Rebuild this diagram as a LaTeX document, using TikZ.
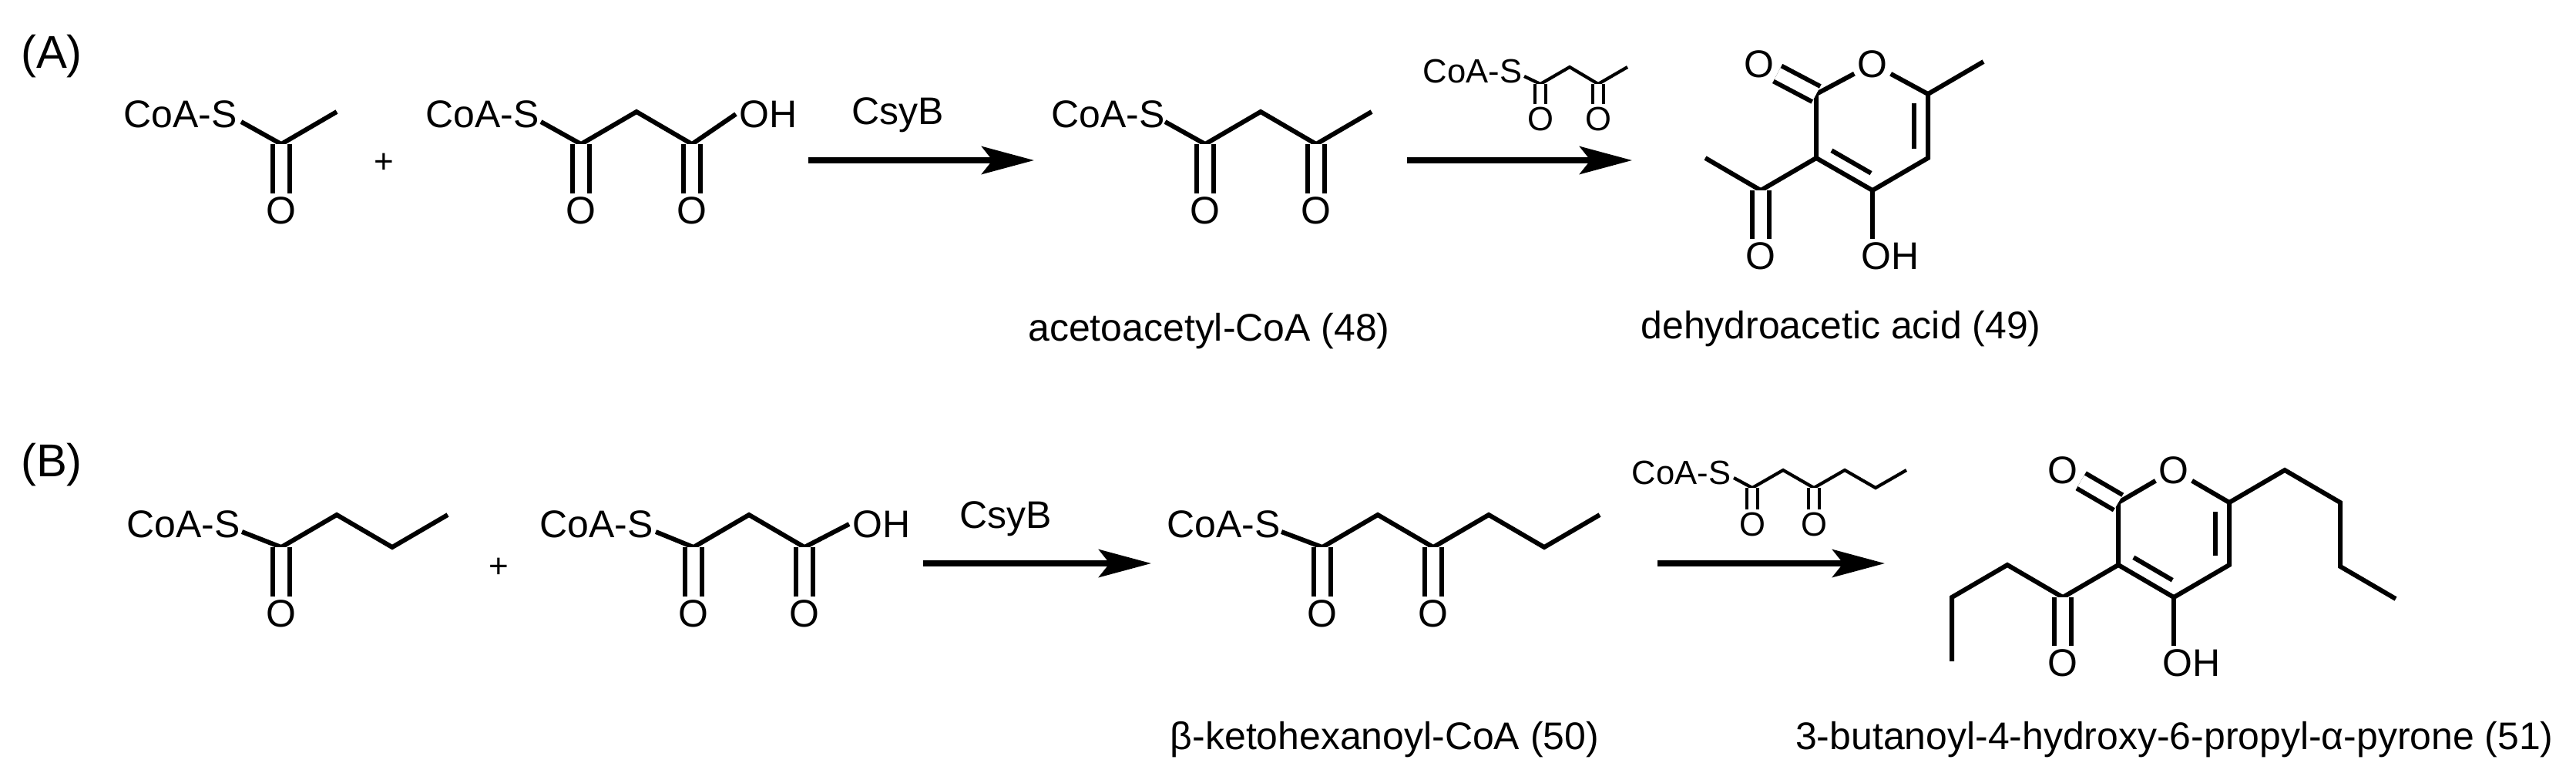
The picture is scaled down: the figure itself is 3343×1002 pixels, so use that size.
\documentclass[tikz,border=0pt]{standalone}
\usepackage{fontspec}
\setmainfont{Liberation Sans}
\usetikzlibrary{arrows.meta,calc}

\tikzset{
  bond/.style={line width=1.7pt, line join=miter},
  sbond/.style={line width=1.2pt},
  dbl/.style={line width=1.7pt, double distance=0.165cm},
  sdbl/.style={line width=1.2pt, double distance=0.1cm},
  rxn/.style={line width=2.1pt, -{Stealth[length=0.68cm,width=0.36cm,inset=0.14cm]}},
  lbl/.style={inner sep=1pt, font=\fontsize{14.2}{16}\selectfont},
  slbl/.style={inner sep=0.8pt, font=\fontsize{12.4}{14}\selectfont},
  panel/.style={inner sep=0pt, font=\fontsize{17}{19}\selectfont},
  plus/.style={inner sep=0pt, font=\fontsize{12.5}{14}\selectfont}
}

\begin{document}
\begin{tikzpicture}[x=0.01cm, y=-0.01cm]
    \useasboundingbox (0,0) rectangle (3343,1002);

    % ---------- (A) ----------
    \node[panel] (pA) at (67,73) {(A)};

    % acetyl-CoA
    \node[lbl] (a1s) at (234,148) {CoA-S};
    \coordinate (a1b) at (313,158);
    \coordinate (a1c) at (365,187);
    \coordinate (a1m) at (437,145);
    \node[lbl] (a1o) at (365,273) {O};
    \draw[bond] (a1b) -- (a1c) -- (a1m);
    \draw[dbl] (a1c) -- (a1o);

    \node[plus] (a1p) at (498,212) {+};

    % malonyl-CoA
    \node[lbl] (a2s) at (626,148) {CoA-S};
    \coordinate (a2b) at (702,158);
    \coordinate (a2c1) at (754,187);
    \coordinate (a2m) at (826,145);
    \coordinate (a2c2) at (898,187);
    \node[lbl,anchor=west] (a2oh) at (955,148) {OH};
    \node[lbl] (a2o1) at (754,273) {O};
    \node[lbl] (a2o2) at (898,273) {O};
    \draw[bond] (a2b) -- (a2c1) -- (a2m) -- (a2c2) -- (a2oh.west);
    \draw[dbl] (a2c1) -- (a2o1);
    \draw[dbl] (a2c2) -- (a2o2);

    % first step
    \coordinate (ar1l) at (1049,208);
    \coordinate (ar1r) at (1342,208);
    \draw[rxn] (ar1l) -- (ar1r);
    \node[lbl] (ar1t) at (1165,149) {CsyB};

    % acetoacetyl-CoA
    \node[lbl] (a3s) at (1438,148) {CoA-S};
    \coordinate (a3b) at (1512,158);
    \coordinate (a3c1) at (1564,187);
    \coordinate (a3m) at (1636,145);
    \coordinate (a3c2) at (1708,187);
    \coordinate (a3e) at (1780,145);
    \node[lbl] (a3o1) at (1564,273) {O};
    \node[lbl] (a3o2) at (1708,273) {O};
    \draw[bond] (a3b) -- (a3c1) -- (a3m) -- (a3c2) -- (a3e);
    \draw[dbl] (a3c1) -- (a3o1);
    \draw[dbl] (a3c2) -- (a3o2);
    \node[lbl] (a3n) at (1569,430) {acetoacetyl-CoA (48)};

    % second step
    \coordinate (ar2l) at (1826,208);
    \coordinate (ar2r) at (2118,208);
    \draw[rxn] (ar2l) -- (ar2r);
    \node[slbl] (a4s) at (1911,92) {CoA-S};
    \coordinate (a4b) at (1978,99);
    \coordinate (a4c1) at (1999,109);
    \coordinate (a4m) at (2037,87);
    \coordinate (a4c2) at (2074,109);
    \coordinate (a4e) at (2112,87);
    \node[slbl] (a4o1) at (1999,154) {O};
    \node[slbl] (a4o2) at (2074,154) {O};
    \draw[sbond] (a4b) -- (a4c1) -- (a4m) -- (a4c2) -- (a4e);
    \draw[sdbl] (a4c1) -- (a4o1);
    \draw[sdbl] (a4c2) -- (a4o2);

    % dehydroacetic acid
    \node[lbl] (a5o1) at (2430,83) {O};
    \coordinate (a5c2) at (2357,122);
    \coordinate (a5c3) at (2357,205);
    \coordinate (a5c4) at (2430,247);
    \coordinate (a5c5) at (2502,205);
    \coordinate (a5c6) at (2502,122);
    \coordinate (a5m) at (2574,80);
    \node[lbl] (a5ox) at (2283,83) {O};
    \coordinate (a5k) at (2285,247);
    \coordinate (a5km) at (2213,205);
    \node[lbl] (a5ko) at (2285,332) {O};
    \node[lbl,anchor=west] (a5oh) at (2411,332) {OH};
    \draw[bond] (a5o1) -- (a5c2) -- (a5c3) -- (a5c4) -- (a5c5) -- (a5c6) -- (a5o1);
    \draw[bond] (a5c6) -- (a5m);
    \draw[bond] (a5km) -- (a5k) -- (a5c3);
    \draw[bond] (a5c4) -- (a5oh.north west -| a5c4);
    \draw[dbl] (a5c2) -- (a5ox);
    \draw[dbl] (a5k) -- (a5ko);
    \draw[bond] ($(a5c3)!.15!(a5c4)+(9,-16)$) -- ($(a5c3)!.85!(a5c4)+(9,-16)$);
    \draw[bond] ($(a5c5)!.15!(a5c6)+(-18,0)$) -- ($(a5c5)!.85!(a5c6)+(-18,0)$);
    \node[lbl] (a5n) at (2389,427) {dehydroacetic acid (49)};

    % ---------- (B) ----------
    \node[panel] (pB) at (67,603) {(B)};

    % butyryl-CoA
    \node[lbl] (b1s) at (238,680) {CoA-S};
    \coordinate (b1b) at (314,690);
    \coordinate (b1c) at (365,710);
    \coordinate (b1m1) at (437,668);
    \coordinate (b1m2) at (509,710);
    \coordinate (b1e) at (581,668);
    \node[lbl] (b1o) at (365,796) {O};
    \draw[bond] (b1b) -- (b1c) -- (b1m1) -- (b1m2) -- (b1e);
    \draw[dbl] (b1c) -- (b1o);

    \node[plus] (b1p) at (647,737) {+};

    % malonyl-CoA
    \node[lbl] (b2s) at (774,680) {CoA-S};
    \coordinate (b2b) at (851,690);
    \coordinate (b2c1) at (900,710);
    \coordinate (b2m) at (972,668);
    \coordinate (b2c2) at (1044,710);
    \node[lbl,anchor=west] (b2oh) at (1102,680) {OH};
    \node[lbl] (b2o1) at (900,796) {O};
    \node[lbl] (b2o2) at (1044,796) {O};
    \draw[bond] (b2b) -- (b2c1) -- (b2m) -- (b2c2) -- (b2oh.west);
    \draw[dbl] (b2c1) -- (b2o1);
    \draw[dbl] (b2c2) -- (b2o2);

    % first step
    \coordinate (br1l) at (1198,731);
    \coordinate (br1r) at (1494,731);
    \draw[rxn] (br1l) -- (br1r);
    \node[lbl] (br1t) at (1305,673) {CsyB};

    % beta-ketohexanoyl-CoA
    \node[lbl] (b3s) at (1588,680) {CoA-S};
    \coordinate (b3b) at (1663,690);
    \coordinate (b3c1) at (1716,710);
    \coordinate (b3m1) at (1788,668);
    \coordinate (b3c2) at (1860,710);
    \coordinate (b3m2) at (1932,668);
    \coordinate (b3m3) at (2004,710);
    \coordinate (b3e) at (2076,668);
    \node[lbl] (b3o1) at (1716,796) {O};
    \node[lbl] (b3o2) at (1860,796) {O};
    \draw[bond] (b3b) -- (b3c1) -- (b3m1) -- (b3c2) -- (b3m2) -- (b3m3) -- (b3e);
    \draw[dbl] (b3c1) -- (b3o1);
    \draw[dbl] (b3c2) -- (b3o2);
    \node[lbl] (b3n) at (1797,960) {β-ketohexanoyl-CoA (50)};

    % second step
    \coordinate (br2l) at (2151,731);
    \coordinate (br2r) at (2446,731);
    \draw[rxn] (br2l) -- (br2r);
    \node[slbl] (b4s) at (2182,613) {CoA-S};
    \coordinate (b4b) at (2250,620);
    \coordinate (b4c1) at (2274,633);
    \coordinate (b4m1) at (2314,610);
    \coordinate (b4c2) at (2354,633);
    \coordinate (b4m2) at (2394,610);
    \coordinate (b4m3) at (2434,633);
    \coordinate (b4e) at (2474,610);
    \node[slbl] (b4o1) at (2274,680) {O};
    \node[slbl] (b4o2) at (2354,680) {O};
    \draw[sbond] (b4b) -- (b4c1) -- (b4m1) -- (b4c2) -- (b4m2) -- (b4m3) -- (b4e);
    \draw[sdbl] (b4c1) -- (b4o1);
    \draw[sdbl] (b4c2) -- (b4o2);

    % pyrone
    \node[lbl] (b5o1) at (2821,610) {O};
    \coordinate (b5c2) at (2749,652);
    \coordinate (b5c3) at (2749,733);
    \coordinate (b5c4) at (2821,775);
    \coordinate (b5c5) at (2893,733);
    \coordinate (b5c6) at (2893,652);
    \coordinate (b5p1) at (2965,610);
    \coordinate (b5p2) at (3037,652);
    \coordinate (b5p3) at (3037,735);
    \coordinate (b5p4) at (3109,777);
    \node[lbl] (b5ox) at (2677,610) {O};
    \coordinate (b5k) at (2677,775);
    \coordinate (b5k1) at (2605,733);
    \coordinate (b5k2) at (2533,775);
    \coordinate (b5k3) at (2533,858);
    \node[lbl] (b5ko) at (2677,860) {O};
    \node[lbl,anchor=west] (b5oh) at (2802,860) {OH};
    \draw[bond] (b5o1) -- (b5c2) -- (b5c3) -- (b5c4) -- (b5c5) -- (b5c6) -- (b5o1);
    \draw[bond] (b5c6) -- (b5p1) -- (b5p2) -- (b5p3) -- (b5p4);
    \draw[bond] (b5k3) -- (b5k2) -- (b5k1) -- (b5k) -- (b5c3);
    \draw[bond] (b5c4) -- (b5oh.north west -| b5c4);
    \draw[dbl] (b5c2) -- (b5ox);
    \draw[dbl] (b5k) -- (b5ko);
    \draw[bond] ($(b5c3)!.15!(b5c4)+(9,-16)$) -- ($(b5c3)!.85!(b5c4)+(9,-16)$);
    \draw[bond] ($(b5c5)!.15!(b5c6)+(-18,0)$) -- ($(b5c5)!.85!(b5c6)+(-18,0)$);
    \node[lbl] (b5n) at (2822,960) {3-butanoyl-4-hydroxy-6-propyl-α-pyrone (51)};
\end{tikzpicture}
\end{document}
